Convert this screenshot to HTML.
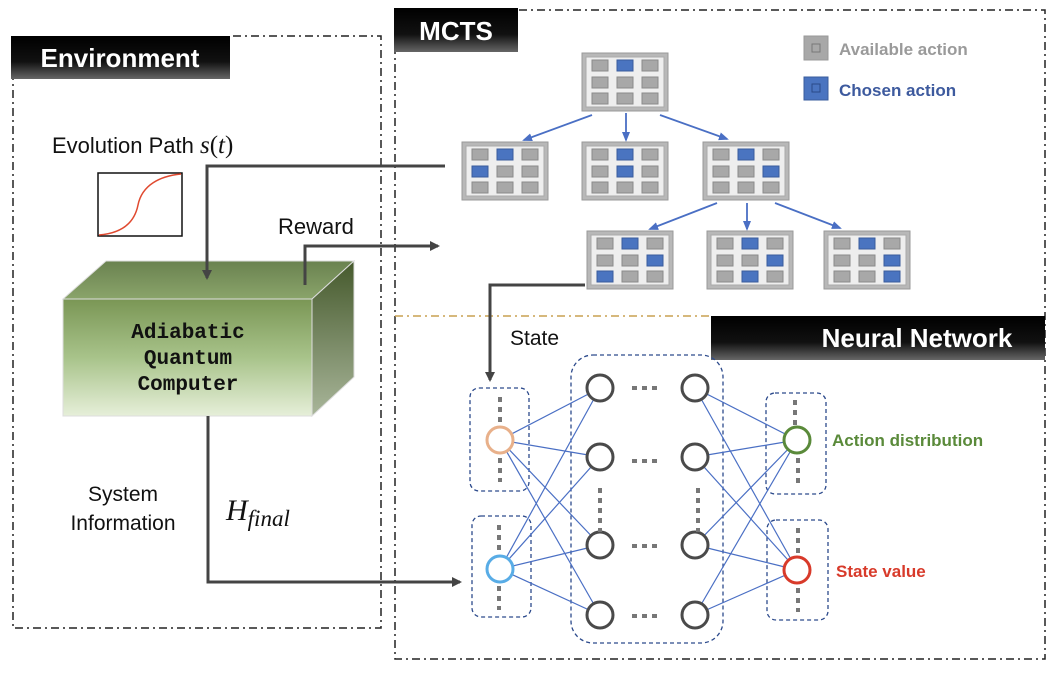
<!DOCTYPE html>
<html><head><meta charset="utf-8"><style>
body{margin:0;background:#fff}
svg{display:block}
</style></head><body>
<svg width="1056" height="678" viewBox="0 0 1056 678" xmlns="http://www.w3.org/2000/svg" font-family="Liberation Sans, sans-serif">
<defs>
<linearGradient id="lab" x1="0" y1="0" x2="0" y2="1"><stop offset="0" stop-color="#000"/><stop offset="0.6" stop-color="#111"/><stop offset="1" stop-color="#666"/></linearGradient>
<linearGradient id="front" x1="0" y1="0" x2="0" y2="1"><stop offset="0" stop-color="#7a9655"/><stop offset="0.5" stop-color="#a8c38a"/><stop offset="1" stop-color="#e6efd9"/></linearGradient>
<linearGradient id="top" x1="0" y1="0" x2="0" y2="1"><stop offset="0" stop-color="#6a8250"/><stop offset="1" stop-color="#8aa46a"/></linearGradient>
<linearGradient id="side" x1="0" y1="0" x2="0" y2="1"><stop offset="0" stop-color="#45592c"/><stop offset="1" stop-color="#a9b69a"/></linearGradient>
<marker id="ah" markerWidth="10" markerHeight="10" refX="8" refY="5" orient="auto" markerUnits="userSpaceOnUse"><path d="M0,0 L10,5 L0,10 z" fill="#444"/></marker>
<marker id="bh" markerWidth="10" markerHeight="10" refX="8" refY="5" orient="auto" markerUnits="userSpaceOnUse"><path d="M0,1 L10,5 L0,9 z" fill="#4a6fc4"/></marker>
<g id="cellg"><rect width="16" height="11" fill="#a8a8a8" stroke="#8a8a8a" stroke-width="1"/></g>
<g id="cellb"><rect width="16" height="11" fill="#4a74c0" stroke="#3a5c9c" stroke-width="1"/></g>
</defs>

<path d="M13,36 V628 H381 V36 H230" fill="none" stroke="#222" stroke-width="1.5" stroke-dasharray="8,4,2,4"/>
<path d="M395,10 V659 H1045 V10 H518" fill="none" stroke="#222" stroke-width="1.5" stroke-dasharray="8,4,2,4"/>
<line x1="395" y1="316" x2="711" y2="316" stroke="#c9a050" stroke-width="1.5" stroke-dasharray="8,4,2,4"/>

<rect x="11" y="36" width="219" height="43" fill="url(#lab)"/>
<text x="120" y="67" text-anchor="middle" font-size="26" font-weight="bold" fill="#fff">Environment</text>
<rect x="394" y="8" width="124" height="44" fill="url(#lab)"/>
<text x="456" y="40" text-anchor="middle" font-size="26" font-weight="bold" fill="#fff">MCTS</text>
<rect x="711" y="316" width="334" height="44" fill="url(#lab)"/>
<text x="917" y="347" text-anchor="middle" font-size="26" font-weight="bold" fill="#fff">Neural Network</text>

<text x="52" y="153" font-size="22" fill="#111">Evolution Path <tspan font-family="Liberation Serif, serif" font-style="italic" font-size="25">s</tspan><tspan font-family="Liberation Serif, serif" font-size="25">(</tspan><tspan font-family="Liberation Serif, serif" font-style="italic" font-size="25">t</tspan><tspan font-family="Liberation Serif, serif" font-size="25">)</tspan></text>
<rect x="98" y="173" width="84" height="63" fill="#fff" stroke="#111" stroke-width="1.5"/>
<path d="M99,235 C125,233 135,220 138,205 C142,185 160,176 181,174" fill="none" stroke="#e04a30" stroke-width="1.5"/>
<text x="278" y="234" font-size="22" fill="#111">Reward</text>

<polygon points="63,299 106,261 354,261 312,299" fill="url(#top)" stroke="#ddd" stroke-width="1"/>
<polygon points="312,299 354,261 354,377 312,416" fill="url(#side)" stroke="#ddd" stroke-width="1"/>
<rect x="63" y="299" width="249" height="117" fill="url(#front)" stroke="#ddd" stroke-width="1"/>
<g font-family="Liberation Mono, monospace" font-weight="bold" font-size="21" fill="#111" text-anchor="middle">
<text x="188" y="338">Adiabatic</text><text x="188" y="364">Quantum</text><text x="188" y="390">Computer</text></g>

<text x="123" y="501" text-anchor="middle" font-size="21" fill="#111">System</text>
<text x="123" y="530" text-anchor="middle" font-size="21" fill="#111">Information</text>
<text x="226" y="520" font-family="Liberation Serif, serif" font-style="italic" font-size="30" fill="#111">H<tspan font-size="23" dy="6">final</tspan></text>

<path d="M445,166 H207 V278" fill="none" stroke="#444" stroke-width="3" marker-end="url(#ah)"/>
<path d="M305,285 V246 H438" fill="none" stroke="#444" stroke-width="3" marker-end="url(#ah)"/>
<path d="M585,285 H490 V380" fill="none" stroke="#444" stroke-width="3" marker-end="url(#ah)"/>
<path d="M208,416 V582 H460" fill="none" stroke="#444" stroke-width="3" marker-end="url(#ah)"/>
<text x="510" y="345" font-size="21" fill="#111">State</text>

<rect x="804" y="36" width="24" height="24" fill="#a8a8a8" stroke="#999"/>
<rect x="812" y="44" width="8" height="8" fill="none" stroke="#777"/>
<text x="839" y="55" font-size="17" font-weight="bold" fill="#9a9a9a">Available action</text>
<rect x="804" y="77" width="24" height="23" fill="#4a74c0" stroke="#3a5c9c"/>
<rect x="812" y="84" width="8" height="8" fill="none" stroke="#2a4a88"/>
<text x="839" y="96" font-size="17" font-weight="bold" fill="#3d5a9e">Chosen action</text>

<g stroke="#4a6fc4" stroke-width="1.8" marker-end="url(#bh)">
<line x1="592" y1="115" x2="524" y2="140"/>
<line x1="626" y1="113" x2="626" y2="140"/>
<line x1="660" y1="115" x2="727" y2="139"/>
<line x1="717" y1="203" x2="650" y2="229"/>
<line x1="747" y1="203" x2="747" y2="229"/>
<line x1="775" y1="203" x2="840" y2="228"/>
</g>

<g fill="none" stroke="#2c4a8c" stroke-width="1.3" stroke-dasharray="4,3">
<rect x="470" y="388" width="59" height="103" rx="9"/>
<rect x="472" y="516" width="59" height="101" rx="9"/>
<rect x="571" y="355" width="152" height="288" rx="22"/>
<rect x="766" y="393" width="60" height="101" rx="9"/>
<rect x="767" y="520" width="61" height="100" rx="9"/>
</g>
<g stroke="#4a6fc4" stroke-width="1.2">
<line x1="500" y1="440" x2="600" y2="388"/><line x1="500" y1="440" x2="600" y2="457"/><line x1="500" y1="440" x2="600" y2="545"/><line x1="500" y1="440" x2="600" y2="615"/>
<line x1="500" y1="569" x2="600" y2="388"/><line x1="500" y1="569" x2="600" y2="457"/><line x1="500" y1="569" x2="600" y2="545"/><line x1="500" y1="569" x2="600" y2="615"/>
<line x1="695" y1="388" x2="797" y2="440"/><line x1="695" y1="457" x2="797" y2="440"/><line x1="695" y1="545" x2="797" y2="440"/><line x1="695" y1="615" x2="797" y2="440"/>
<line x1="695" y1="388" x2="797" y2="570"/><line x1="695" y1="457" x2="797" y2="570"/><line x1="695" y1="545" x2="797" y2="570"/><line x1="695" y1="615" x2="797" y2="570"/>
</g>
<g fill="#fff" stroke-width="3">
<circle cx="500" cy="440" r="13" stroke="#e8b08a"/>
<circle cx="500" cy="569" r="13" stroke="#58ace6"/>
<circle cx="797" cy="440" r="13" stroke="#5a8a3a"/>
<circle cx="797" cy="570" r="13" stroke="#d83a2a"/>
<g stroke="#4a4a4a">
<circle cx="600" cy="388" r="13"/><circle cx="600" cy="457" r="13"/><circle cx="600" cy="545" r="13"/><circle cx="600" cy="615" r="13"/>
<circle cx="695" cy="388" r="13"/><circle cx="695" cy="457" r="13"/><circle cx="695" cy="545" r="13"/><circle cx="695" cy="615" r="13"/>
</g></g>
<g stroke="#777" stroke-width="4" stroke-dasharray="5,5">
<line x1="632" y1="388" x2="662" y2="388"/><line x1="632" y1="461" x2="662" y2="461"/><line x1="632" y1="546" x2="662" y2="546"/><line x1="632" y1="616" x2="662" y2="616"/>
<line x1="600" y1="488" x2="600" y2="532"/><line x1="698" y1="488" x2="698" y2="532"/>
<line x1="500" y1="397" x2="500" y2="424"/><line x1="500" y1="458" x2="500" y2="482"/>
<line x1="499" y1="525" x2="499" y2="552"/><line x1="499" y1="586" x2="499" y2="610"/>
<line x1="795" y1="400" x2="795" y2="425"/><line x1="798" y1="458" x2="798" y2="484"/>
<line x1="798" y1="528" x2="798" y2="554"/><line x1="798" y1="588" x2="798" y2="612"/>
</g>
<text x="832" y="446" font-size="17" font-weight="bold" fill="#5a8a3a">Action distribution</text>
<text x="836" y="577" font-size="17" font-weight="bold" fill="#d83a2a">State value</text>

<g transform="translate(582,53)">
<rect width="86" height="58" fill="#b8b8b8" stroke="#999"/><rect x="4" y="4" width="78" height="50" fill="#eeeeee" stroke="#aaa"/>
<use href="#cellg" x="10" y="7"/><use href="#cellb" x="35" y="7"/><use href="#cellg" x="60" y="7"/>
<use href="#cellg" x="10" y="24"/><use href="#cellg" x="35" y="24"/><use href="#cellg" x="60" y="24"/>
<use href="#cellg" x="10" y="40"/><use href="#cellg" x="35" y="40"/><use href="#cellg" x="60" y="40"/>
</g>
<g transform="translate(462,142)">
<rect width="86" height="58" fill="#b8b8b8" stroke="#999"/><rect x="4" y="4" width="78" height="50" fill="#eeeeee" stroke="#aaa"/>
<use href="#cellg" x="10" y="7"/><use href="#cellb" x="35" y="7"/><use href="#cellg" x="60" y="7"/>
<use href="#cellb" x="10" y="24"/><use href="#cellg" x="35" y="24"/><use href="#cellg" x="60" y="24"/>
<use href="#cellg" x="10" y="40"/><use href="#cellg" x="35" y="40"/><use href="#cellg" x="60" y="40"/>
</g>
<g transform="translate(582,142)">
<rect width="86" height="58" fill="#b8b8b8" stroke="#999"/><rect x="4" y="4" width="78" height="50" fill="#eeeeee" stroke="#aaa"/>
<use href="#cellg" x="10" y="7"/><use href="#cellb" x="35" y="7"/><use href="#cellg" x="60" y="7"/>
<use href="#cellg" x="10" y="24"/><use href="#cellb" x="35" y="24"/><use href="#cellg" x="60" y="24"/>
<use href="#cellg" x="10" y="40"/><use href="#cellg" x="35" y="40"/><use href="#cellg" x="60" y="40"/>
</g>
<g transform="translate(703,142)">
<rect width="86" height="58" fill="#b8b8b8" stroke="#999"/><rect x="4" y="4" width="78" height="50" fill="#eeeeee" stroke="#aaa"/>
<use href="#cellg" x="10" y="7"/><use href="#cellb" x="35" y="7"/><use href="#cellg" x="60" y="7"/>
<use href="#cellg" x="10" y="24"/><use href="#cellg" x="35" y="24"/><use href="#cellb" x="60" y="24"/>
<use href="#cellg" x="10" y="40"/><use href="#cellg" x="35" y="40"/><use href="#cellg" x="60" y="40"/>
</g>
<g transform="translate(587,231)">
<rect width="86" height="58" fill="#b8b8b8" stroke="#999"/><rect x="4" y="4" width="78" height="50" fill="#eeeeee" stroke="#aaa"/>
<use href="#cellg" x="10" y="7"/><use href="#cellb" x="35" y="7"/><use href="#cellg" x="60" y="7"/>
<use href="#cellg" x="10" y="24"/><use href="#cellg" x="35" y="24"/><use href="#cellb" x="60" y="24"/>
<use href="#cellb" x="10" y="40"/><use href="#cellg" x="35" y="40"/><use href="#cellg" x="60" y="40"/>
</g>
<g transform="translate(707,231)">
<rect width="86" height="58" fill="#b8b8b8" stroke="#999"/><rect x="4" y="4" width="78" height="50" fill="#eeeeee" stroke="#aaa"/>
<use href="#cellg" x="10" y="7"/><use href="#cellb" x="35" y="7"/><use href="#cellg" x="60" y="7"/>
<use href="#cellg" x="10" y="24"/><use href="#cellg" x="35" y="24"/><use href="#cellb" x="60" y="24"/>
<use href="#cellg" x="10" y="40"/><use href="#cellb" x="35" y="40"/><use href="#cellg" x="60" y="40"/>
</g>
<g transform="translate(824,231)">
<rect width="86" height="58" fill="#b8b8b8" stroke="#999"/><rect x="4" y="4" width="78" height="50" fill="#eeeeee" stroke="#aaa"/>
<use href="#cellg" x="10" y="7"/><use href="#cellb" x="35" y="7"/><use href="#cellg" x="60" y="7"/>
<use href="#cellg" x="10" y="24"/><use href="#cellg" x="35" y="24"/><use href="#cellb" x="60" y="24"/>
<use href="#cellg" x="10" y="40"/><use href="#cellg" x="35" y="40"/><use href="#cellb" x="60" y="40"/>
</g>
</svg>
</body></html>
